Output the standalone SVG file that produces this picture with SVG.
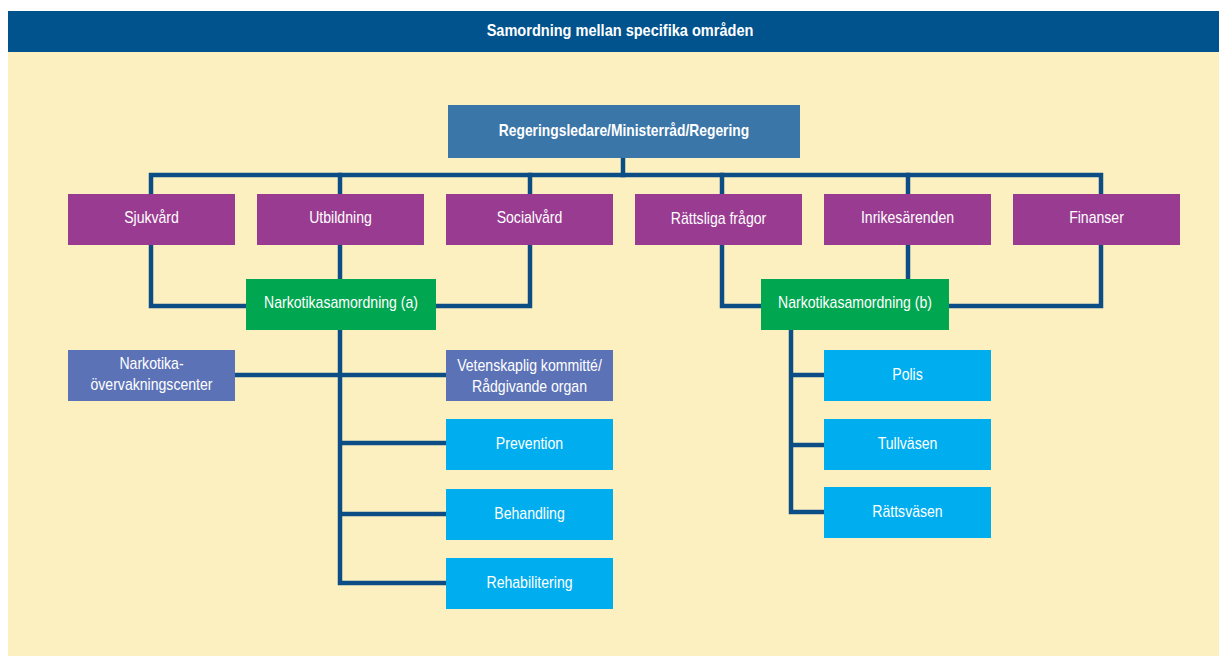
<svg xmlns="http://www.w3.org/2000/svg" width="1219" height="656" viewBox="0 0 1219 656">
<style>
.t{font-family:"Liberation Sans",Arial,sans-serif;font-size:16px;fill:#ffffff;text-anchor:middle}
.b{font-weight:bold}
.c{fill:none;stroke:#0c4d86;stroke-width:4.5;stroke-linejoin:miter;stroke-linecap:square}
.pu{fill:#9a3b92}.gr{fill:#00a650}.sl{fill:#5c72b7}.cy{fill:#00aeef}.tp{fill:#3a76a8}
</style>
<rect x="0" y="0" width="1219" height="656" fill="#ffffff"/>
<rect x="8" y="52" width="1211" height="604" fill="#fdf0c0"/>
<g id="header">
<rect x="8" y="11" width="1211" height="41" fill="#00538c"/>
<text class="t b" transform="translate(620,36) scale(0.91,1)">Samordning mellan specifika områden</text>
</g>
<g id="connectors" class="c">
<path d="M623,158 V175"/>
<path d="M151,194 V175 H1101 V194"/>
<path d="M340,175 V194 M530,175 V194 M722,175 V194 M908,175 V194"/>
<path d="M151,245 V306 H246 M530,245 V306 H436 M340,245 V279"/>
<path d="M722,245 V306 H761 M1101,245 V306 H949 M908,245 V279"/>
<path d="M340,330 V583 H446 M235,375 H446 M340,443 H446 M340,514 H446"/>
<path d="M791,330 V512 H824 M791,375 H824 M791,445 H824"/>
</g>
<g id="regering"><rect class="tp" x="448" y="105" width="352" height="53"/><text class="t b" transform="translate(624,136) scale(0.865,1)">Regeringsledare/Ministerråd/Regering</text></g>
<g id="sjukvard"><rect class="pu" x="68" y="194" width="167" height="51"/><text class="t" transform="translate(151.5,223) scale(0.88,1)">Sjukvård</text></g>
<g id="utbildning"><rect class="pu" x="257" y="194" width="167" height="51"/><text class="t" transform="translate(340.5,223) scale(0.88,1)">Utbildning</text></g>
<g id="socialvard"><rect class="pu" x="446" y="194" width="167" height="51"/><text class="t" transform="translate(529.5,223) scale(0.88,1)">Socialvård</text></g>
<g id="rattsliga"><rect class="pu" x="635" y="194" width="167" height="51"/><text class="t" transform="translate(718.5,224) scale(0.88,1)">Rättsliga frågor</text></g>
<g id="inrikes"><rect class="pu" x="824" y="194" width="167" height="51"/><text class="t" transform="translate(907.5,223) scale(0.88,1)">Inrikesärenden</text></g>
<g id="finanser"><rect class="pu" x="1013" y="194" width="167" height="51"/><text class="t" transform="translate(1096.5,223) scale(0.88,1)">Finanser</text></g>
<g id="narkotika-a"><rect class="gr" x="246" y="279" width="190" height="51"/><text class="t" transform="translate(341,308) scale(0.88,1)">Narkotikasamordning (a)</text></g>
<g id="narkotika-b"><rect class="gr" x="761" y="279" width="188" height="51"/><text class="t" transform="translate(855,308) scale(0.88,1)">Narkotikasamordning (b)</text></g>
<g id="overvakning"><rect class="sl" x="68" y="350" width="167" height="51"/><text class="t" transform="translate(151.5,369) scale(0.88,1)">Narkotika-</text><text class="t" transform="translate(151.5,390) scale(0.88,1)">övervakningscenter</text></g>
<g id="vetenskaplig"><rect class="sl" x="446" y="350" width="167" height="51"/><text class="t" transform="translate(529.5,371) scale(0.88,1)">Vetenskaplig kommitté/</text><text class="t" transform="translate(529.5,392) scale(0.88,1)">Rådgivande organ</text></g>
<g id="prevention"><rect class="cy" x="446" y="419" width="167" height="51"/><text class="t" transform="translate(529.5,449) scale(0.88,1)">Prevention</text></g>
<g id="behandling"><rect class="cy" x="446" y="489" width="167" height="51"/><text class="t" transform="translate(529.5,519) scale(0.88,1)">Behandling</text></g>
<g id="rehabilitering"><rect class="cy" x="446" y="558" width="167" height="51"/><text class="t" transform="translate(529.5,588) scale(0.88,1)">Rehabilitering</text></g>
<g id="polis"><rect class="cy" x="824" y="350" width="167" height="51"/><text class="t" transform="translate(907.5,380) scale(0.88,1)">Polis</text></g>
<g id="tullvasen"><rect class="cy" x="824" y="419" width="167" height="51"/><text class="t" transform="translate(907.5,449) scale(0.88,1)">Tullväsen</text></g>
<g id="rattsvasen"><rect class="cy" x="824" y="487" width="167" height="51"/><text class="t" transform="translate(907.5,517) scale(0.88,1)">Rättsväsen</text></g>
</svg>
